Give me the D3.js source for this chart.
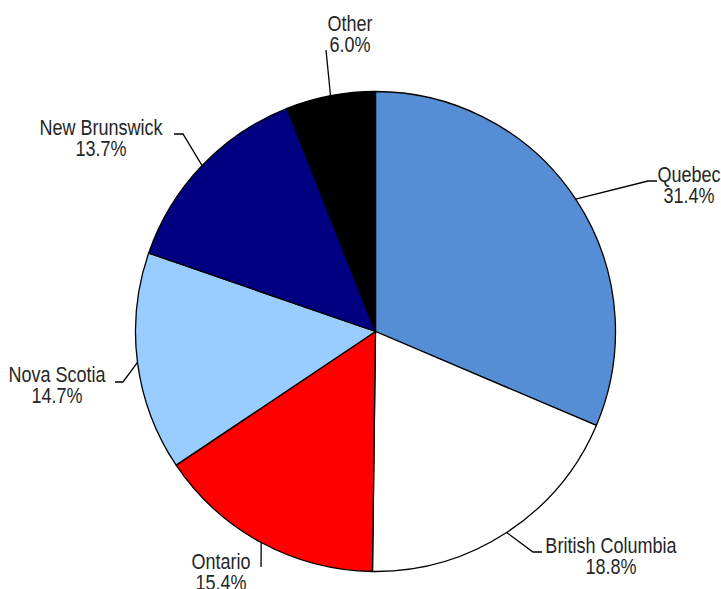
<!DOCTYPE html>
<html>
<head>
<meta charset="utf-8">
<script src="https://cdn.jsdelivr.net/npm/d3@7"></script>
<style>
  html, body { margin: 0; padding: 0; background: #fff; }
  svg { display: block; }
  .lbl { font-family: "Liberation Sans", Arial, sans-serif; font-size: 22px; fill: #262626; }
</style>
</head>
<body>
<svg id="chart" width="721" height="589"></svg>
<script>
// Share by province (percent), clockwise from 12 o'clock
const provinces = ["Quebec", "British Columbia", "Ontario", "Nova Scotia", "New Brunswick", "Other"];
const shares = [31.4, 18.8, 15.4, 14.7, 13.7, 6.0];
const sliceColors = ["#558ED5", "#FFFFFF", "#FF0000", "#99CCFF", "#000080", "#000000"];

// Label placement: elbow of the leader line, its end, text centre and first baseline
const labelSpots = [
  { elbow: [648, 181], end: [657, 181], tx: 689, ty: 182 },
  { elbow: [533, 552], end: [542, 552], tx: 611, ty: 553 },
  { elbow: [261, 567], end: [261, 567], tx: 221, ty: 569 },
  { elbow: [123, 382], end: [115, 382], tx: 57,  ty: 382 },
  { elbow: [183, 134], end: [174, 134], tx: 101, ty: 135 },
  { elbow: [326, 50],  end: [326, 50],  tx: 350, ty: 31 }
];

const cx = 375.5, cy = 331.5, radius = 240;
const narrow = 0.82; // horizontal squeeze giving a condensed face
const svg = d3.select("#chart");
const g = svg.append("g").attr("transform", `translate(${cx},${cy})`);

const rows = provinces.map((name, i) => ({ name, value: shares[i], color: sliceColors[i], spot: labelSpots[i] }));

const pie = d3.pie().sort(null).value(d => d.value);
const arc = d3.arc().innerRadius(0).outerRadius(radius);
const arcs = pie(rows);

g.selectAll("path.slice")
  .data(arcs)
  .join("path")
  .attr("class", "slice")
  .attr("d", arc)
  .attr("fill", d => d.data.color)
  .attr("stroke", "#000")
  .attr("stroke-width", 1.3)
  .attr("stroke-linejoin", "round");

// Leader lines start on the rim at each slice's mid-angle
const rimPoint = d => {
  const a = (d.startAngle + d.endAngle) / 2;
  return [cx + radius * Math.sin(a), cy - radius * Math.cos(a)];
};

svg.selectAll("polyline.leader")
  .data(arcs)
  .join("polyline")
  .attr("class", "leader")
  .attr("points", d => [rimPoint(d), d.data.spot.elbow, d.data.spot.end].map(p => p.join(",")).join(" "))
  .attr("fill", "none")
  .attr("stroke", "#000")
  .attr("stroke-width", 1.3);

const labels = svg.selectAll("text.lbl")
  .data(arcs)
  .join("text")
  .attr("class", "lbl")
  .attr("text-anchor", "middle")
  .attr("transform", d => `translate(${d.data.spot.tx},${d.data.spot.ty}) scale(${narrow},1)`);

labels.append("tspan")
  .attr("x", 0)
  .attr("y", 0)
  .text(d => d.data.name);

labels.append("tspan")
  .attr("x", 0)
  .attr("y", 21)
  .text(d => d3.format(".1f")(d.data.value) + "%");
</script>
</body>
</html>
